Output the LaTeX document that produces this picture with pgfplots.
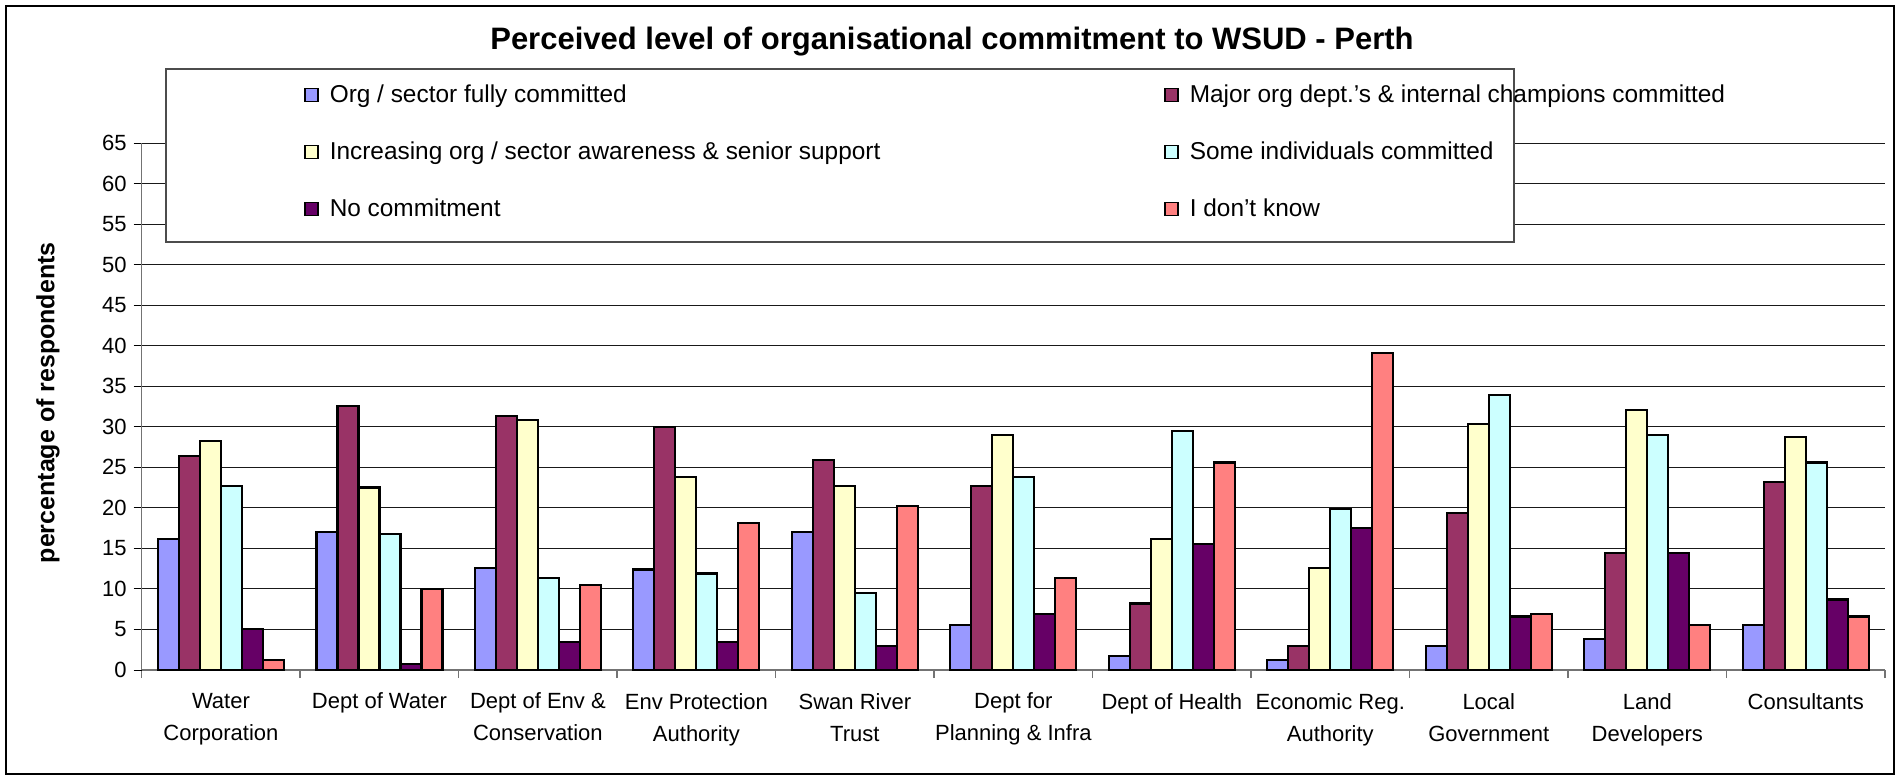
\documentclass[border=0pt]{standalone}
\usepackage{pgfplots}
\pgfplotsset{compat=1.18}
\usepackage{fontspec}
\setmainfont{Liberation Sans}
\definecolor{cA}{HTML}{9999FF}
\definecolor{cB}{HTML}{993366}
\definecolor{cC}{HTML}{FFFFCC}
\definecolor{cD}{HTML}{CCFFFF}
\definecolor{cE}{HTML}{660066}
\definecolor{cF}{HTML}{FF8080}
\pgfplotstableread{
x A B C D E F
0 16.2 26.4 28.2 22.7 5.1 1.2
1 17.0 32.6 22.5 16.8 0.7 10.0
2 12.6 31.3 30.8 11.3 3.5 10.5
3 12.4 30.0 23.8 11.9 3.5 18.1
4 17.0 25.9 22.7 9.5 3.0 20.2
5 5.6 22.7 29.0 23.8 6.9 11.3
6 1.7 8.2 16.2 29.5 15.5 25.6
7 1.2 3.0 12.6 19.9 17.5 39.1
8 3.0 19.4 30.3 33.9 6.6 6.9
9 3.8 14.4 32.1 29.0 14.4 5.6
10 5.6 23.2 28.7 25.6 8.7 6.6
}\data
\begin{document}
\begin{tikzpicture}
\useasboundingbox (-70.85pt,-53.5pt) rectangle (878.65pt,335pt);
\begin{axis}[
  at={(0pt,0pt)}, anchor=south west,
  scale only axis, width=871.65pt, height=263.5pt,
  xmin=-0.5, xmax=10.5, ymin=0, ymax=65,
  clip=false,
  ybar=0pt, bar width=10.5pt,
  axis x line=bottom, axis y line=left,
  axis line style={-, black!55, line width=0.8pt},
  tick align=outside,
  xtick={0,...,10},
  major x tick style={draw=none},
  minor xtick={-0.5,0.5,...,10.5},
  minor x tick style={black!55, line width=0.8pt},
  minor tick length=4pt,
  ytick={0,5,...,65},
  major y tick style={black, line width=0.5pt},
  major tick length=4pt,
  ymajorgrids, grid style={black!90, line width=0.5pt},
  /pgf/number format/assume math mode=true,
  yticklabel style={font=\fontsize{11}{13}\selectfont},
  xticklabels={{Water\\Corporation},{Dept of Water},{Dept of Env \&\\Conservation},{Env Protection\\Authority},{Swan River\\Trust},{Dept for\\Planning \& Infra},{Dept of Health},{Economic Reg.\\Authority},{Local\\Government},{Land\\Developers},{Consultants}},
  xticklabel style={align=center, font=\fontsize{11}{16}\selectfont, anchor=north, yshift=-4pt},
  ylabel={\bfseries percentage of respondents},
  ylabel style={at={(axis description cs:-0.0537,0.507)}, anchor=center, font=\fontsize{12.5}{14}\selectfont},
  title={\bfseries Perceived level of organisational commitment to WSUD - Perth},
  title style={at={(axis description cs:0.4648,1.1992)}, anchor=center, yshift=-8pt, font=\fontsize{15.5}{18}\selectfont},
  legend columns=2,
  legend cell align=left,
  legend image code/.code={\draw[#1, draw=black, line width=0.7pt] (0pt,-3.25pt) rectangle (6.5pt,3.25pt);},
  legend style={at={(rel axis cs:0.0931,0.9832)}, anchor=west, draw=none, fill=none,
    inner sep=0pt, row sep=16.2pt, font=\fontsize{12.2}{14}\selectfont,
    nodes={inner sep=1pt},
    /tikz/column 1/.style={column sep=4.5pt},
    /tikz/column 3/.style={column sep=4.5pt},
    /tikz/column 2/.style={column sep=141pt}},
]
\addplot[fill=cA, draw=black, line width=1.1pt] table[x=x,y=A]{\data};
\addplot[fill=cB, draw=black, line width=1.1pt] table[x=x,y=B]{\data};
\addplot[fill=cC, draw=black, line width=1.1pt] table[x=x,y=C]{\data};
\addplot[fill=cD, draw=black, line width=1.1pt] table[x=x,y=D]{\data};
\addplot[fill=cE, draw=black, line width=1.1pt] table[x=x,y=E]{\data};
\addplot[fill=cF, draw=black, line width=1.1pt] table[x=x,y=F]{\data};
\draw[fill=white, draw=black!70, line width=0.8pt] (rel axis cs:0.01394,0.8121) rectangle (rel axis cs:0.7872,1.1404);
\legend{Org / sector fully committed, Major org dept.'s \& internal champions committed, Increasing org / sector awareness \& senior support, Some individuals committed, No commitment, I don't know}
\end{axis}
\draw[black, line width=1pt] (-67.85pt,-52pt) rectangle (876.15pt,332pt);
\end{tikzpicture}
\end{document}
